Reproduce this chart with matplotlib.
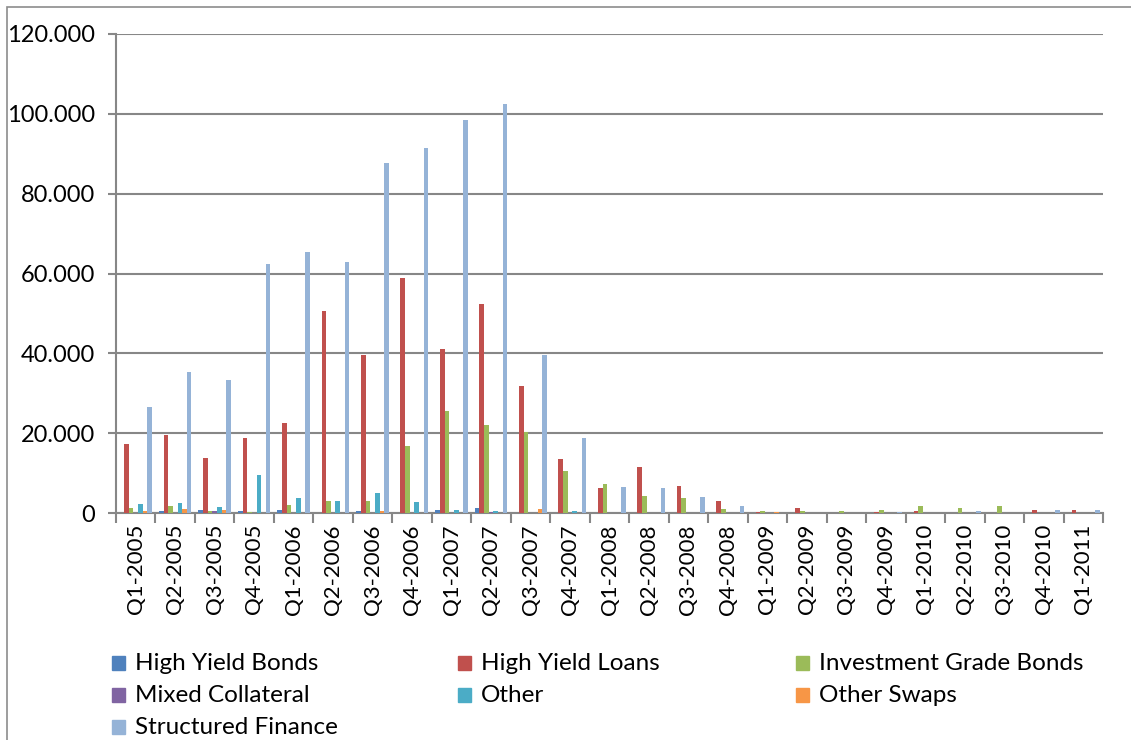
import matplotlib
matplotlib.use("Agg")
import matplotlib.pyplot as plt
from matplotlib.patches import Rectangle
import numpy as np

plt.rcParams['font.family'] = ['Lato', 'DejaVu Sans']

quarters = ["Q1-2005", "Q2-2005", "Q3-2005", "Q4-2005", "Q1-2006", "Q2-2006", "Q3-2006",
            "Q4-2006", "Q1-2007", "Q2-2007", "Q3-2007", "Q4-2007", "Q1-2008", "Q2-2008",
            "Q3-2008", "Q4-2008", "Q1-2009", "Q2-2009", "Q3-2009", "Q4-2009", "Q1-2010",
            "Q2-2010", "Q3-2010", "Q4-2010", "Q1-2011"]

high_yield_bonds = [0.1, 0.4, 0.75, 0.4, 0.75, 0.1, 0.4, 0.1, 0.75, 1.25, 0.1, 0.1, 0.0, 0.0,
                    0.0, 0.0, 0.0, 0.0, 0.0, 0.0, 0.0, 0.0, 0.0, 0.0, 0.0]
high_yield_loans = [17.3, 19.5, 13.9, 18.8, 22.6, 50.6, 39.7, 58.8, 41.0, 52.3, 31.8, 13.6, 6.3, 11.5,
                    6.8, 2.9, 0.25, 1.25, 0.1, 0.2, 0.4, 0.1, 0.1, 0.75, 0.75]
investment_grade_bonds = [1.25, 1.75, 0.4, 0.2, 2.0, 3.1, 2.9, 16.8, 25.6, 22.0, 20.3, 10.6, 7.3, 4.3,
                          3.8, 0.9, 0.5, 0.5, 0.4, 0.65, 1.75, 1.2, 1.75, 0.1, 0.1]
mixed_collateral = [0.0, 0.1, 0.4, 0.0, 0.0, 0.0, 0.1, 0.0, 0.1, 0.2, 0.0, 0.0, 0.0, 0.0,
                    0.0, 0.0, 0.0, 0.0, 0.0, 0.0, 0.0, 0.0, 0.0, 0.0, 0.0]
other = [2.3, 2.4, 1.6, 9.6, 3.75, 3.0, 5.0, 2.75, 0.75, 0.5, 0.1, 0.5, 0.0, 0.0,
         0.0, 0.0, 0.0, 0.0, 0.0, 0.0, 0.0, 0.0, 0.0, 0.0, 0.0]
other_swaps = [0.6, 0.9, 0.75, 0.0, 0.1, 0.0, 0.4, 0.0, 0.0, 0.0, 0.9, 0.0, 0.0, 0.0,
               0.0, 0.0, 0.3, 0.0, 0.0, 0.0, 0.0, 0.0, 0.0, 0.0, 0.0]
structured_finance = [26.6, 35.3, 33.3, 62.5, 65.5, 63.0, 87.6, 91.4, 98.4, 102.4, 39.6, 18.8, 6.5, 6.3,
                      3.9, 1.75, 0.1, 0.1, 0.1, 0.2, 0.1, 0.5, 0.1, 0.8, 0.75]

series_names = ["High Yield Bonds", "High Yield Loans", "Investment Grade Bonds",
                "Mixed Collateral", "Other", "Other Swaps", "Structured Finance"]
series_values = [high_yield_bonds, high_yield_loans, investment_grade_bonds,
                 mixed_collateral, other, other_swaps, structured_finance]
colors = ["#4F81BD", "#C0504D", "#9BBB59", "#8064A2", "#4BACC6", "#F79646", "#95B3D7"]

yticks = [0, 20, 40, 60, 80, 100, 120]
ytick_labels = ["0", "20.000", "40.000", "60.000", "80.000", "100.000", "120.000"]

W, H = 1131, 740
fig = plt.figure(figsize=(W / 100, H / 100), dpi=100)
left, right, top, bottom = 116, 1103, 34, 513
ax = fig.add_axes([left / W, 1 - bottom / H, (right - left) / W, (bottom - top) / H])

n = len(series_names)
x = np.arange(len(quarters))
bw = 1 / 8.5
for i, (name, vals, c) in enumerate(zip(series_names, series_values, colors)):
    ax.bar(x + (i - (n - 1) / 2) * bw, vals, width=bw, color=c, label=name, zorder=3)

gray = "#878787"
ax.set_xlim(-0.5, len(quarters) - 0.5)
ax.set_ylim(0, 120)
ax.set_yticks(yticks)
ax.set_yticklabels(ytick_labels, fontsize=17)
ax.yaxis.grid(True, color=gray, linewidth=1.5, zorder=0)
ax.set_axisbelow(True)

ax.set_xticks(x)
ax.set_xticklabels(quarters, rotation=90, fontsize=16)
ax.tick_params(axis='x', length=0, pad=8)
ax.set_xticks(np.arange(-0.5, len(quarters), 1), minor=True)
ax.tick_params(axis='x', which='minor', length=7, width=1.5, color=gray)
ax.tick_params(axis='y', length=6, width=1.5, color=gray, pad=9)

for s in ["top", "right"]:
    ax.spines[s].set_visible(False)
for s in ["left", "bottom"]:
    ax.spines[s].set_color(gray)
    ax.spines[s].set_linewidth(1.5)

# outer chart border
fig.patches.append(Rectangle((7 / W, -0.1), 1.2, 1 - 7 / H + 0.1, transform=fig.transFigure,
                             fill=False, edgecolor="#8c8c8c", linewidth=1.2))

# legend laid out as in the reference (3 columns)
col_x = [112, 458, 796]
row_y = [663, 695, 727]
order_pos = [(0, 0), (0, 1), (0, 2), (1, 0), (1, 1), (1, 2), (2, 0)]
for (r, cidx), name, c in zip(order_pos, series_names, colors):
    xs, ys = col_x[cidx], row_y[r]
    fig.patches.append(Rectangle((xs / W, 1 - (ys + 7) / H), 13 / W, 14 / H,
                                 transform=fig.transFigure, color=c))
    fig.text((xs + 23) / W, 1 - ys / H, name, fontsize=17.5, va="center", ha="left")

fig.savefig("out.png", dpi=100)
